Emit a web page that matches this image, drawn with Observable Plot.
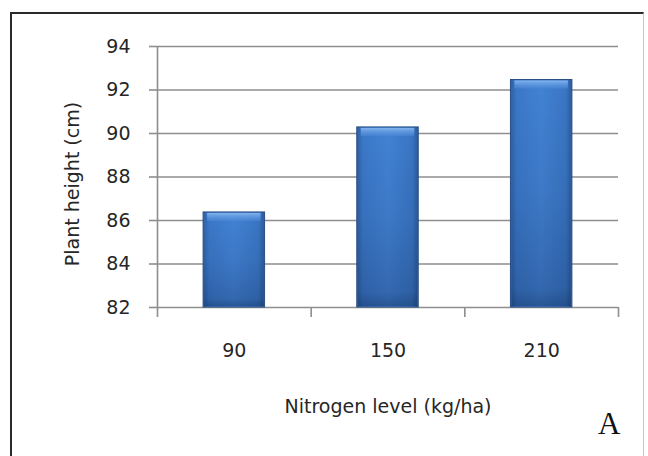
<!DOCTYPE html>
<html><head><meta charset="utf-8">
<script src="https://cdn.jsdelivr.net/npm/d3@7"></script>
<script src="https://cdn.jsdelivr.net/npm/@observablehq/plot@0.6"></script>
<style>
body{margin:0;background:#fff;}
#frame{position:absolute;left:10px;top:12px;width:634px;height:460px;border-left:2.5px solid #2a2a2a;border-top:2.5px solid #2a2a2a;border-right:1px solid #c8c8c8;box-sizing:border-box;}
#chart{position:absolute;left:0;top:0;}
</style></head><body>
<div id="frame"></div><div id="chart"></div>
<script>
const nitrogen = ["90", "150", "210"];
const plantHeight = [86.37, 90.28, 92.46];
const yTicks = [82, 84, 86, 88, 90, 92, 94];
const xLabel = "Nitrogen level (kg/ha)";
const yLabel = "Plant height (cm)";
const panelTag = "A";

const data = nitrogen.map((n, i) => ({n, i, h: plantHeight[i]}));
const bounds = d3.range(nitrogen.length + 1).map(i => i - 0.5);
const font = "'DejaVu Sans', sans-serif";
const gridColor = "#8e8e8e";
const half = 0.2;

const chart = Plot.plot({
  width: 648, height: 456,
  marginLeft: 157, marginRight: 30, marginTop: 46, marginBottom: 149,
  style: {fontFamily: font, background: "transparent", overflow: "visible", color: "#262626"},
  x: {type: "linear", domain: [-0.5, nitrogen.length - 0.5], axis: null},
  y: {domain: [82, 94], axis: null},
  marks: [
    Plot.ruleY(yTicks, {stroke: gridColor, strokeWidth: 1.6}),
    Plot.axisY({ticks: yTicks, tickSize: 8, tickPadding: 19, tickFormat: d => String(d), fontSize: 19, stroke: gridColor, strokeWidth: 1.6, strokeOpacity: 1, label: null}),
    Plot.ruleX([-0.5], {stroke: gridColor, strokeWidth: 1.6}),
    Plot.axisX({ticks: bounds, tickSize: 10, tickFormat: () => "", stroke: gridColor, strokeWidth: 1.6, strokeOpacity: 1, label: null}),
    Plot.rectY(data, {x1: d => d.i - half, x2: d => d.i + half, y1: 82, y2: "h", fill: "url(#barH)", stroke: "#2a4f82", strokeWidth: 1}),
    Plot.rectY(data, {x1: d => d.i - half, x2: d => d.i + half, y1: 82, y2: "h", fill: "url(#barV)", inset: 1}),
    Plot.rect(data, {x1: d => d.i - half, x2: d => d.i + half, y1: "h", y2: "h", insetBottom: -9, insetLeft: 4, insetRight: 4, insetTop: 1, fill: "url(#bevel)"}),
    Plot.text(data, {x: "i", text: "n", frameAnchor: "bottom", dy: 49, fontSize: 19, fill: "#262626"}),
    Plot.text([xLabel], {frameAnchor: "bottom", dy: 105, fontSize: 19, fill: "#262626"}),
    Plot.text([yLabel], {frameAnchor: "left", textAnchor: "middle", rotate: -90, dx: -85, dy: 7, fontSize: 19, fill: "#262626"}),
    Plot.text([panelTag], {frameAnchor: "bottom-right", textAnchor: "end", dx: 2, dy: 126, fontSize: 31, fontFamily: "'Liberation Serif', serif", fill: "#111"})
  ]
});

const defs = d3.select(chart).insert("defs", ":first-child");
const addGrad = (id, vertical, stops) => {
  const g = defs.append("linearGradient").attr("id", id)
    .attr("x1", 0).attr("y1", 0).attr("x2", vertical ? 0 : 1).attr("y2", vertical ? 1 : 0);
  stops.forEach(([o, c, a]) => g.append("stop").attr("offset", o).attr("stop-color", c).attr("stop-opacity", a ?? 1));
};
addGrad("barH", false, [[0, "#2f60a2"], [0.1, "#3b78c8"], [0.5, "#4282d4"], [0.9, "#3a76c4"], [1, "#2c5b9a"]]);
addGrad("barV", true, [[0, "#001030", 0], [0.5, "#001030", 0.08], [0.92, "#001030", 0.22], [1, "#001030", 0.38]]);
addGrad("bevel", true, [[0, "#82b3ee"], [1, "#4e8ad8", 0.5]]);

document.getElementById("chart").appendChild(chart);
</script>
</body></html>
